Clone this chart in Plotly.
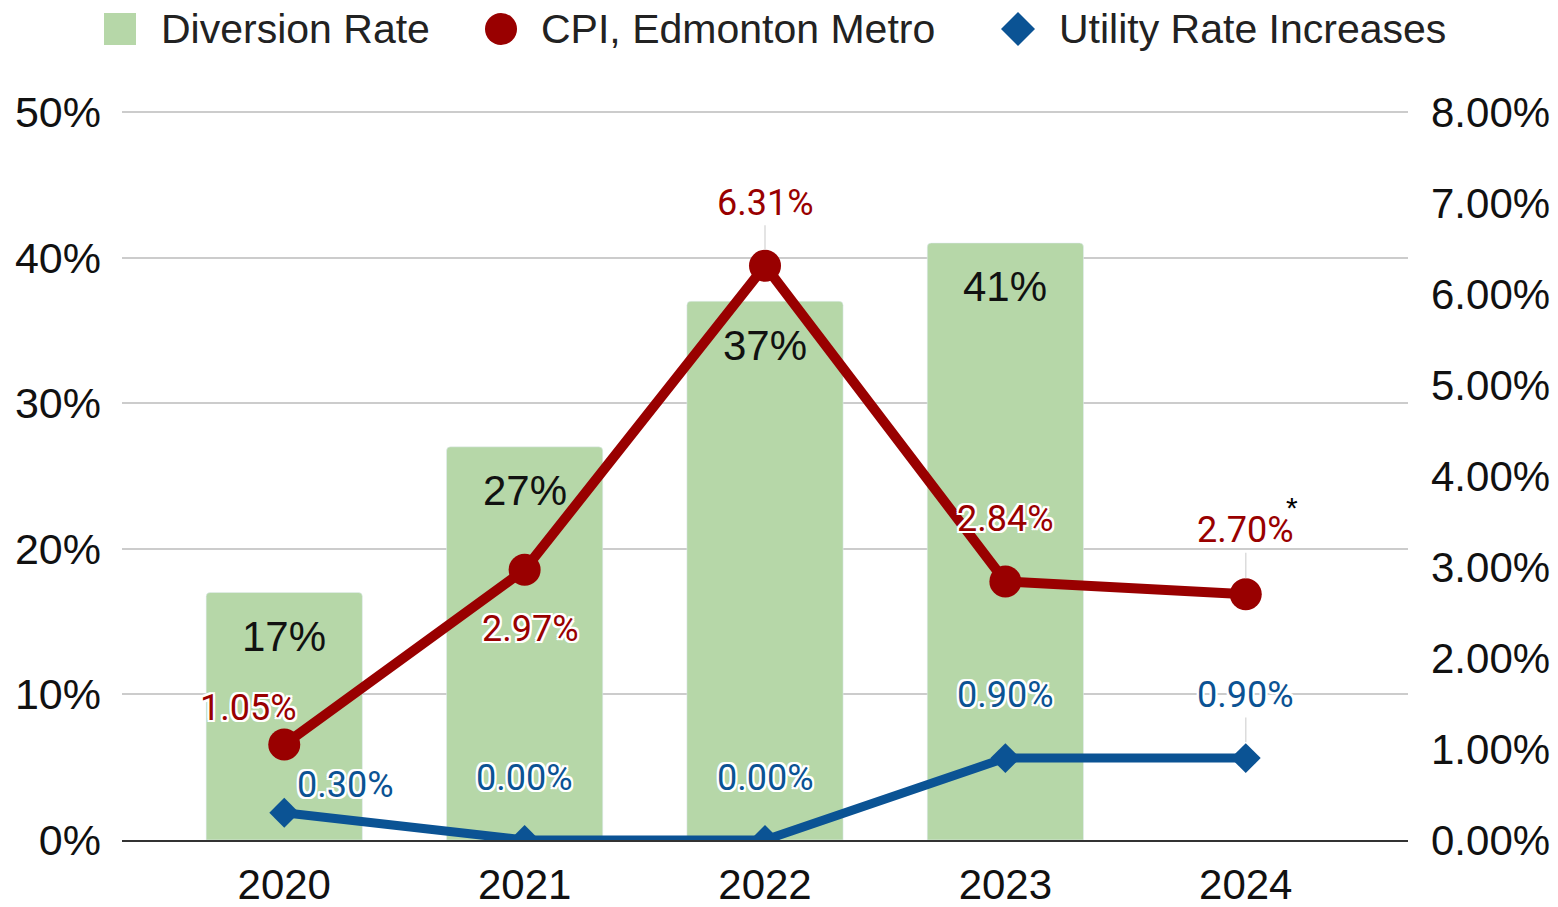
import plotly.graph_objects as go

years = ["2020", "2021", "2022", "2023", "2024"]
diversion = [17, 27, 37, 41, None]
cpi = [1.05, 2.97, 6.31, 2.84, 2.70]
utility = [0.30, 0.00, 0.00, 0.90, 0.90]
left_ticks = [0, 10, 20, 30, 40, 50]
right_ticks = [0, 1, 2, 3, 4, 5, 6, 7, 8]

GREEN = "#b6d7a8"
RED = "#990000"
BLUE = "#0b5394"
AX_FONT = "Arial, Liberation Sans, sans-serif"
LBL_FONT = "Roboto, Arial, sans-serif"
SHADOW = ("2px 0px 0px white, -2px 0px 0px white, 0px 2px 0px white, 0px -2px 0px white, "
          "2px 2px 0px white, -2px -2px 0px white, 2px -2px 0px white, -2px 2px 0px white")

# figure geometry (page body has an 8px margin)
FW, FH = 1550, 899
L, T, R, B = 114, 101, 150, 67
W, H = FW - L - R, FH - T - B
YMAX = 50.2
Y2MAX = 8 * YMAX / 50

fig = go.Figure()
fig.add_trace(go.Bar(x=years, y=diversion, name="Diversion Rate", marker_color=GREEN,
                     width=0.65, yaxis="y", showlegend=False, hoverinfo="skip"))
fig.add_trace(go.Scatter(x=years, y=utility, name="Utility Rate Increases", yaxis="y2",
                         mode="lines+markers", line=dict(color=BLUE, width=9),
                         marker=dict(symbol="diamond", size=23, color=BLUE), showlegend=False))
fig.add_trace(go.Scatter(x=years, y=cpi, name="CPI, Edmonton Metro", yaxis="y2",
                         mode="lines+markers", line=dict(color=RED, width=10),
                         marker=dict(symbol="circle", size=32, color=RED), showlegend=False))

annotations = []
# bar value labels
for i, v in enumerate(diversion):
    if v is None:
        continue
    annotations.append(dict(x=i, y=v, xref="x", yref="y", text=f"{v}%", showarrow=False,
                            yshift=-44, font=dict(family=AX_FONT, size=42, color="#111")))

# CPI labels: (ax, ay, leader)
cpi_off = [(-36, -36, False), (6, 59, False), (0, -63, True), (0, -63, False), (0, -64, True)]
for i, (v, (ax, ay, lead)) in enumerate(zip(cpi, cpi_off)):
    annotations.append(dict(x=i, y=v, xref="x", yref="y2", text=f"{v:.2f}%", showarrow=True,
                            ax=ax, ay=ay, arrowhead=0, arrowwidth=1.5, standoff=16,
                            arrowcolor="#dcdcdc" if lead else "rgba(0,0,0,0)",
                            font=dict(family=LBL_FONT, size=36, color=RED, shadow=SHADOW)))
ut_off = [(61, -28, False), (0, -62, False), (0, -62, False), (0, -63, False), (0, -63, True)]
for i, (v, (ax, ay, lead)) in enumerate(zip(utility, ut_off)):
    annotations.append(dict(x=i, y=v, xref="x", yref="y2", text=f"{v:.2f}%", showarrow=True,
                            ax=ax, ay=ay, arrowhead=0, arrowwidth=1.5, standoff=16,
                            arrowcolor="#dcdcdc" if lead else "rgba(0,0,0,0)",
                            font=dict(family=LBL_FONT, size=36, color=BLUE, shadow=SHADOW)))
# asterisk note on 2024 CPI
annotations.append(dict(x=len(years) - 1, y=cpi[-1], xref="x", yref="y2", text="*",
                        showarrow=False, xshift=46, yshift=87,
                        font=dict(family=AX_FONT, size=30, color="#000")))

# manual legend (positions in figure pixels)
legend_items = [("Diversion Rate", GREEN, "square", 112, 152),
                ("CPI, Edmonton Metro", RED, "circle", 493, 532),
                ("Utility Rate Increases", BLUE, "diamond", 1010, 1050)]
shapes = []
def px(x):
    return (x - L) / W
def py(y):
    return (T + H - y) / H
for name, col, sym, cx, tx in legend_items:
    cy = 21
    if sym == "square":
        shapes.append(dict(type="rect", xref="paper", yref="paper", x0=px(cx - 16), x1=px(cx + 16),
                           y0=py(cy + 16), y1=py(cy - 16), fillcolor=col, line=dict(width=0)))
    elif sym == "circle":
        shapes.append(dict(type="circle", xref="paper", yref="paper", x0=px(cx - 16), x1=px(cx + 16),
                           y0=py(cy + 16), y1=py(cy - 16), fillcolor=col, line=dict(width=0)))
    else:
        shapes.append(dict(type="path", xref="paper", yref="paper",
                           path=(f"M{px(cx-17)},{py(cy)} L{px(cx)},{py(cy-17)} "
                                 f"L{px(cx+17)},{py(cy)} L{px(cx)},{py(cy+17)} Z"),
                           fillcolor=col, line=dict(width=0)))
    annotations.append(dict(x=px(tx), y=py(cy), xref="paper", yref="paper", text=name,
                            showarrow=False, xanchor="left", yanchor="middle", borderpad=0,
                            font=dict(family=AX_FONT, size=41, color="#222")))

fig.update_layout(
    width=FW, height=FH,
    margin=dict(l=L, r=R, t=T, b=B, autoexpand=False),
    paper_bgcolor="white", plot_bgcolor="white",
    showlegend=False,
    barcornerradius=4,
    annotations=annotations,
    shapes=shapes,
    xaxis=dict(type="category", range=[-0.675, 4.675], showgrid=False, showline=True,
               linecolor="#333", linewidth=2, ticks="", ticklabelstandoff=7,
               tickfont=dict(family=AX_FONT, size=42, color="#111")),
    yaxis=dict(range=[0, YMAX], tickmode="array", tickvals=left_ticks,
               ticktext=[f"{t}%" for t in left_ticks],
               showgrid=True, gridcolor="#cccccc",
               gridwidth=2, zeroline=False, showline=False, ticks="", ticklabelstandoff=20,
               tickfont=dict(family=AX_FONT, size=43, color="#111")),
    yaxis2=dict(range=[0, Y2MAX], tickmode="array", tickvals=right_ticks,
                ticktext=[f"{t:.2f}%" for t in right_ticks], overlaying="y",
                side="right", showgrid=False, zeroline=False, showline=False, ticks="",
                ticklabelstandoff=22, tickfont=dict(family=AX_FONT, size=42, color="#111")),
)

fig.write_html("out.html")
